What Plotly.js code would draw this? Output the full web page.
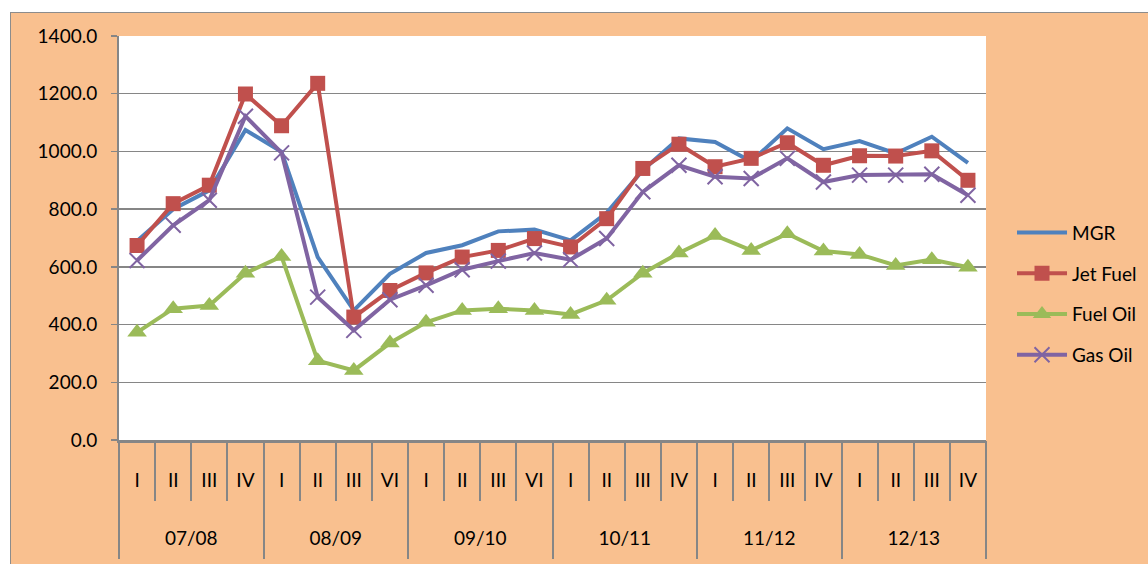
<!DOCTYPE html>
<html>
<head>
<meta charset="utf-8">
<script src="https://cdn.plot.ly/plotly-3.0.1.min.js"></script>
<style>
  html, body { margin: 0; padding: 0; background: #ffffff; }
  #frame { position: absolute; left: 10px; top: 12px; width: 1140px; height: 554px;
           background: #F9C08F; border-left: 1.5px solid #8c8c8c; border-top: 1.5px solid #8c8c8c; }
  #chart { position: absolute; left: 0; top: 0; width: 1148px; height: 564px; }
</style>
</head>
<body>
<div id="frame"></div>
<div id="chart"></div>
<script>
// ---- data ----
var years = ['07/08', '08/09', '09/10', '10/11', '11/12', '12/13'];
var quarters = ['I', 'II', 'III', 'IV', 'I', 'II', 'III', 'VI', 'I', 'II', 'III', 'VI',
                'I', 'II', 'III', 'IV', 'I', 'II', 'III', 'IV', 'I', 'II', 'III', 'IV'];
var mgr     = [690, 800, 865, 1074, 999, 634, 449, 576, 648, 675, 723, 729,
               692, 787, 935, 1045, 1033, 965, 1080, 1008, 1036, 993, 1051, 960];
var jetFuel = [674, 819, 883, 1199, 1089, 1236, 426, 518, 579, 634, 657, 698,
               669, 767, 941, 1025, 947, 976, 1030, 952, 985, 984, 1002, 900];
var fuelOil = [373, 455, 466, 578, 636, 275, 241, 336, 408, 449, 455, 449,
               435, 484, 578, 648, 709, 657, 715, 655, 643, 605, 625, 599];
var gasOil  = [622, 744, 831, 1122, 995, 495, 380, 486, 536, 590, 620, 648,
               625, 698, 860, 952, 912, 906, 976, 894, 918, 918, 921, 848];

// ---- derived ----
var perGroup = quarters.length / years.length;
var yearOfPoint = quarters.map(function (q, i) { return years[Math.floor(i / perGroup)]; });
var xCat = [yearOfPoint, quarters];
var n = quarters.length;
var idx = quarters.map(function (q, i) { return i; });
var qBounds = []; for (var b = 0; b <= n; b++) qBounds.push(b - 0.5);
var gBounds = []; for (var g = 0; g <= years.length; g++) gBounds.push(g * perGroup - 0.5);
var gCenters = years.map(function (y, g) { return g * perGroup + (perGroup - 1) / 2; });

var FONT = 'Lato, "Liberation Sans", sans-serif';
var GRAY = '#868686';

function tr(name, ys, color, symbol, msize, extra) {
  var t = {
    type: 'scatter', mode: symbol ? 'lines+markers' : 'lines', name: name,
    x: xCat, y: ys, legendgroup: name,
    line: { color: color, width: 4 },
    hoverinfo: 'y+name'
  };
  if (symbol) t.marker = Object.assign({ symbol: symbol, size: msize, color: color }, extra || {});
  return t;
}

var data = [
  tr('MGR', mgr, '#4F81BD'),
  tr('Jet Fuel', jetFuel, '#C0504D', 'square', 15),
  tr('Fuel Oil', fuelOil, '#9BBB59', 'triangle-up', 17),
  tr('Gas Oil', gasOil, '#8064A2', 'x-thin', 15, { line: { color: '#8064A2', width: 2 } })
];

var layout = {
  width: 1148, height: 564,
  margin: { l: 119, r: 162, t: 36, b: 124, autoexpand: false },
  paper_bgcolor: 'rgba(0,0,0,0)',
  plot_bgcolor: '#ffffff',
  font: { family: FONT, size: 19, color: '#000000' },
  showlegend: true,
  legend: {
    x: 1.030, y: 0.56, xanchor: 'left', yanchor: 'top',
    bgcolor: 'rgba(0,0,0,0)', traceorder: 'grouped', tracegroupgap: 13,
    itemwidth: 50,
    font: { family: FONT, size: 19, color: '#000000' }
  },
  yaxis: {
    range: [0, 1400], dtick: 200, tick0: 0, tickformat: '.1f',
    showgrid: true, gridcolor: GRAY, gridwidth: 1.3,
    showline: true, linecolor: GRAY, linewidth: 2,
    ticks: 'outside', ticklen: 6, tickcolor: GRAY, tickwidth: 1.5,
    ticklabelstandoff: 10, zeroline: false, fixedrange: true
  },
  xaxis: {
    type: 'multicategory', range: [-0.5, n - 0.5],
    showticklabels: false, ticks: '', showdividers: false,
    showline: true, linecolor: GRAY, linewidth: 2.5, showgrid: false, fixedrange: true
  },
  xaxis2: {
    overlaying: 'x', anchor: 'y', side: 'bottom', range: [-0.5, n - 0.5],
    tickmode: 'array', tickvals: idx, ticktext: quarters,
    ticks: '', showline: false, showgrid: false, zeroline: false,
    ticklabelstandoff: 27, fixedrange: true,
    minor: { tickmode: 'array', tickvals: qBounds, ticks: 'outside', ticklen: 60,
             tickcolor: GRAY, tickwidth: 2, showgrid: false }
  },
  xaxis3: {
    overlaying: 'x', anchor: 'y', side: 'bottom', range: [-0.5, n - 0.5],
    tickmode: 'array', tickvals: gCenters, ticktext: years,
    ticks: '', showline: false, showgrid: false, zeroline: false,
    ticklabelstandoff: 85, fixedrange: true,
    minor: { tickmode: 'array', tickvals: gBounds, ticks: 'outside', ticklen: 118,
             tickcolor: GRAY, tickwidth: 2, showgrid: false }
  }
};

// Invisible helper traces so the overlay label axes are rendered
data.push({ type: 'scatter', x: [0], y: [0], xaxis: 'x2', yaxis: 'y', mode: 'markers',
            marker: { opacity: 0 }, showlegend: false, hoverinfo: 'skip' });
data.push({ type: 'scatter', x: [0], y: [0], xaxis: 'x3', yaxis: 'y', mode: 'markers',
            marker: { opacity: 0 }, showlegend: false, hoverinfo: 'skip' });

Plotly.newPlot('chart', data, layout, { displayModeBar: false, staticPlot: true });
</script>
</body>
</html>
